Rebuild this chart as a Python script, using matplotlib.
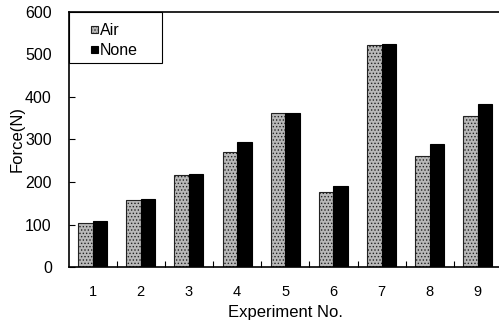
import numpy as np
import matplotlib
matplotlib.use("Agg")
import matplotlib.pyplot as plt
from matplotlib.patches import Rectangle
from matplotlib.legend_handler import HandlerPatch

plt.rcParams['font.family'] = ['Liberation Sans', 'DejaVu Sans']
plt.rcParams['hatch.linewidth'] = 0.6

# data
experiments = ['1', '2', '3', '4', '5', '6', '7', '8', '9']
air = [104, 157, 217, 271, 362, 176, 521, 260, 355]
none = [109, 160, 219, 295, 363, 190, 524, 290, 383]


# small square drawn at the right end of the legend handle area
class RightSquare(HandlerPatch):
    def create_artists(self, legend, orig_handle, xdescent, ydescent,
                       width, height, fontsize, trans):
        s = 0.44 * fontsize
        p = Rectangle((width - xdescent - s, -ydescent + (height - s) / 2), s, s)
        self.update_prop(p, orig_handle, legend)
        p.set_transform(trans)
        return [p]


x = np.arange(1, len(experiments) + 1)
w = 0.3

fig = plt.figure(figsize=(4.99, 3.25), dpi=100)
ax = fig.add_axes([0.1373, 0.1775, 0.8687, 0.787])

b1 = ax.bar(x - w / 2, air, width=w, color='#b8b8b8', edgecolor='#222222',
            hatch='.....', linewidth=0.8, label='Air')
b2 = ax.bar(x + w / 2, none, width=w, color='black', edgecolor='black',
            linewidth=0.8, label='None')

ax.set_xlim(0.5, 9.5)
ax.set_ylim(0, 600)
ax.set_yticks(range(0, 601, 100))
ax.set_xticks(x)
ax.set_xticklabels(experiments)
ax.set_xticks(x[:-1] + 0.5, minor=True)
ax.tick_params(axis='x', which='major', length=0, pad=13, labelsize=10.5)
ax.tick_params(axis='x', which='minor', direction='in', length=4, width=0.8)
ax.tick_params(axis='y', direction='in', length=4, width=0.8, labelsize=11.5, pad=12)
for t in ax.get_yticklabels():
    t.set_family(['Liberation Sans Narrow', 'Liberation Sans'])

for s in ['left', 'bottom', 'top']:
    ax.spines[s].set_linewidth(1.2)
ax.spines['right'].set_visible(False)

ax.set_xlabel('Experiment No.', fontsize=12, labelpad=4)
ax.set_ylabel('Force(N)', fontsize=12, labelpad=0)

# tiny blank title pushes the entries down a little inside the frame
leg_w = 93 / (0.8687 * 499)
leg = ax.legend([b1.patches[0], b2.patches[0]], ['Air', 'None'],
                handler_map={Rectangle: RightSquare()},
                loc='upper left', bbox_to_anchor=(0, 0, leg_w, 1), mode='expand',
                fancybox=False, framealpha=1, edgecolor='black', fontsize=11.5,
                title=' ', title_fontsize=1,
                handlelength=1.5, handleheight=0.7, handletextpad=0.1,
                borderaxespad=0, borderpad=0.35, labelspacing=0.3)
leg.get_frame().set_linewidth(0.8)

fig.savefig('out.png', dpi=100)
